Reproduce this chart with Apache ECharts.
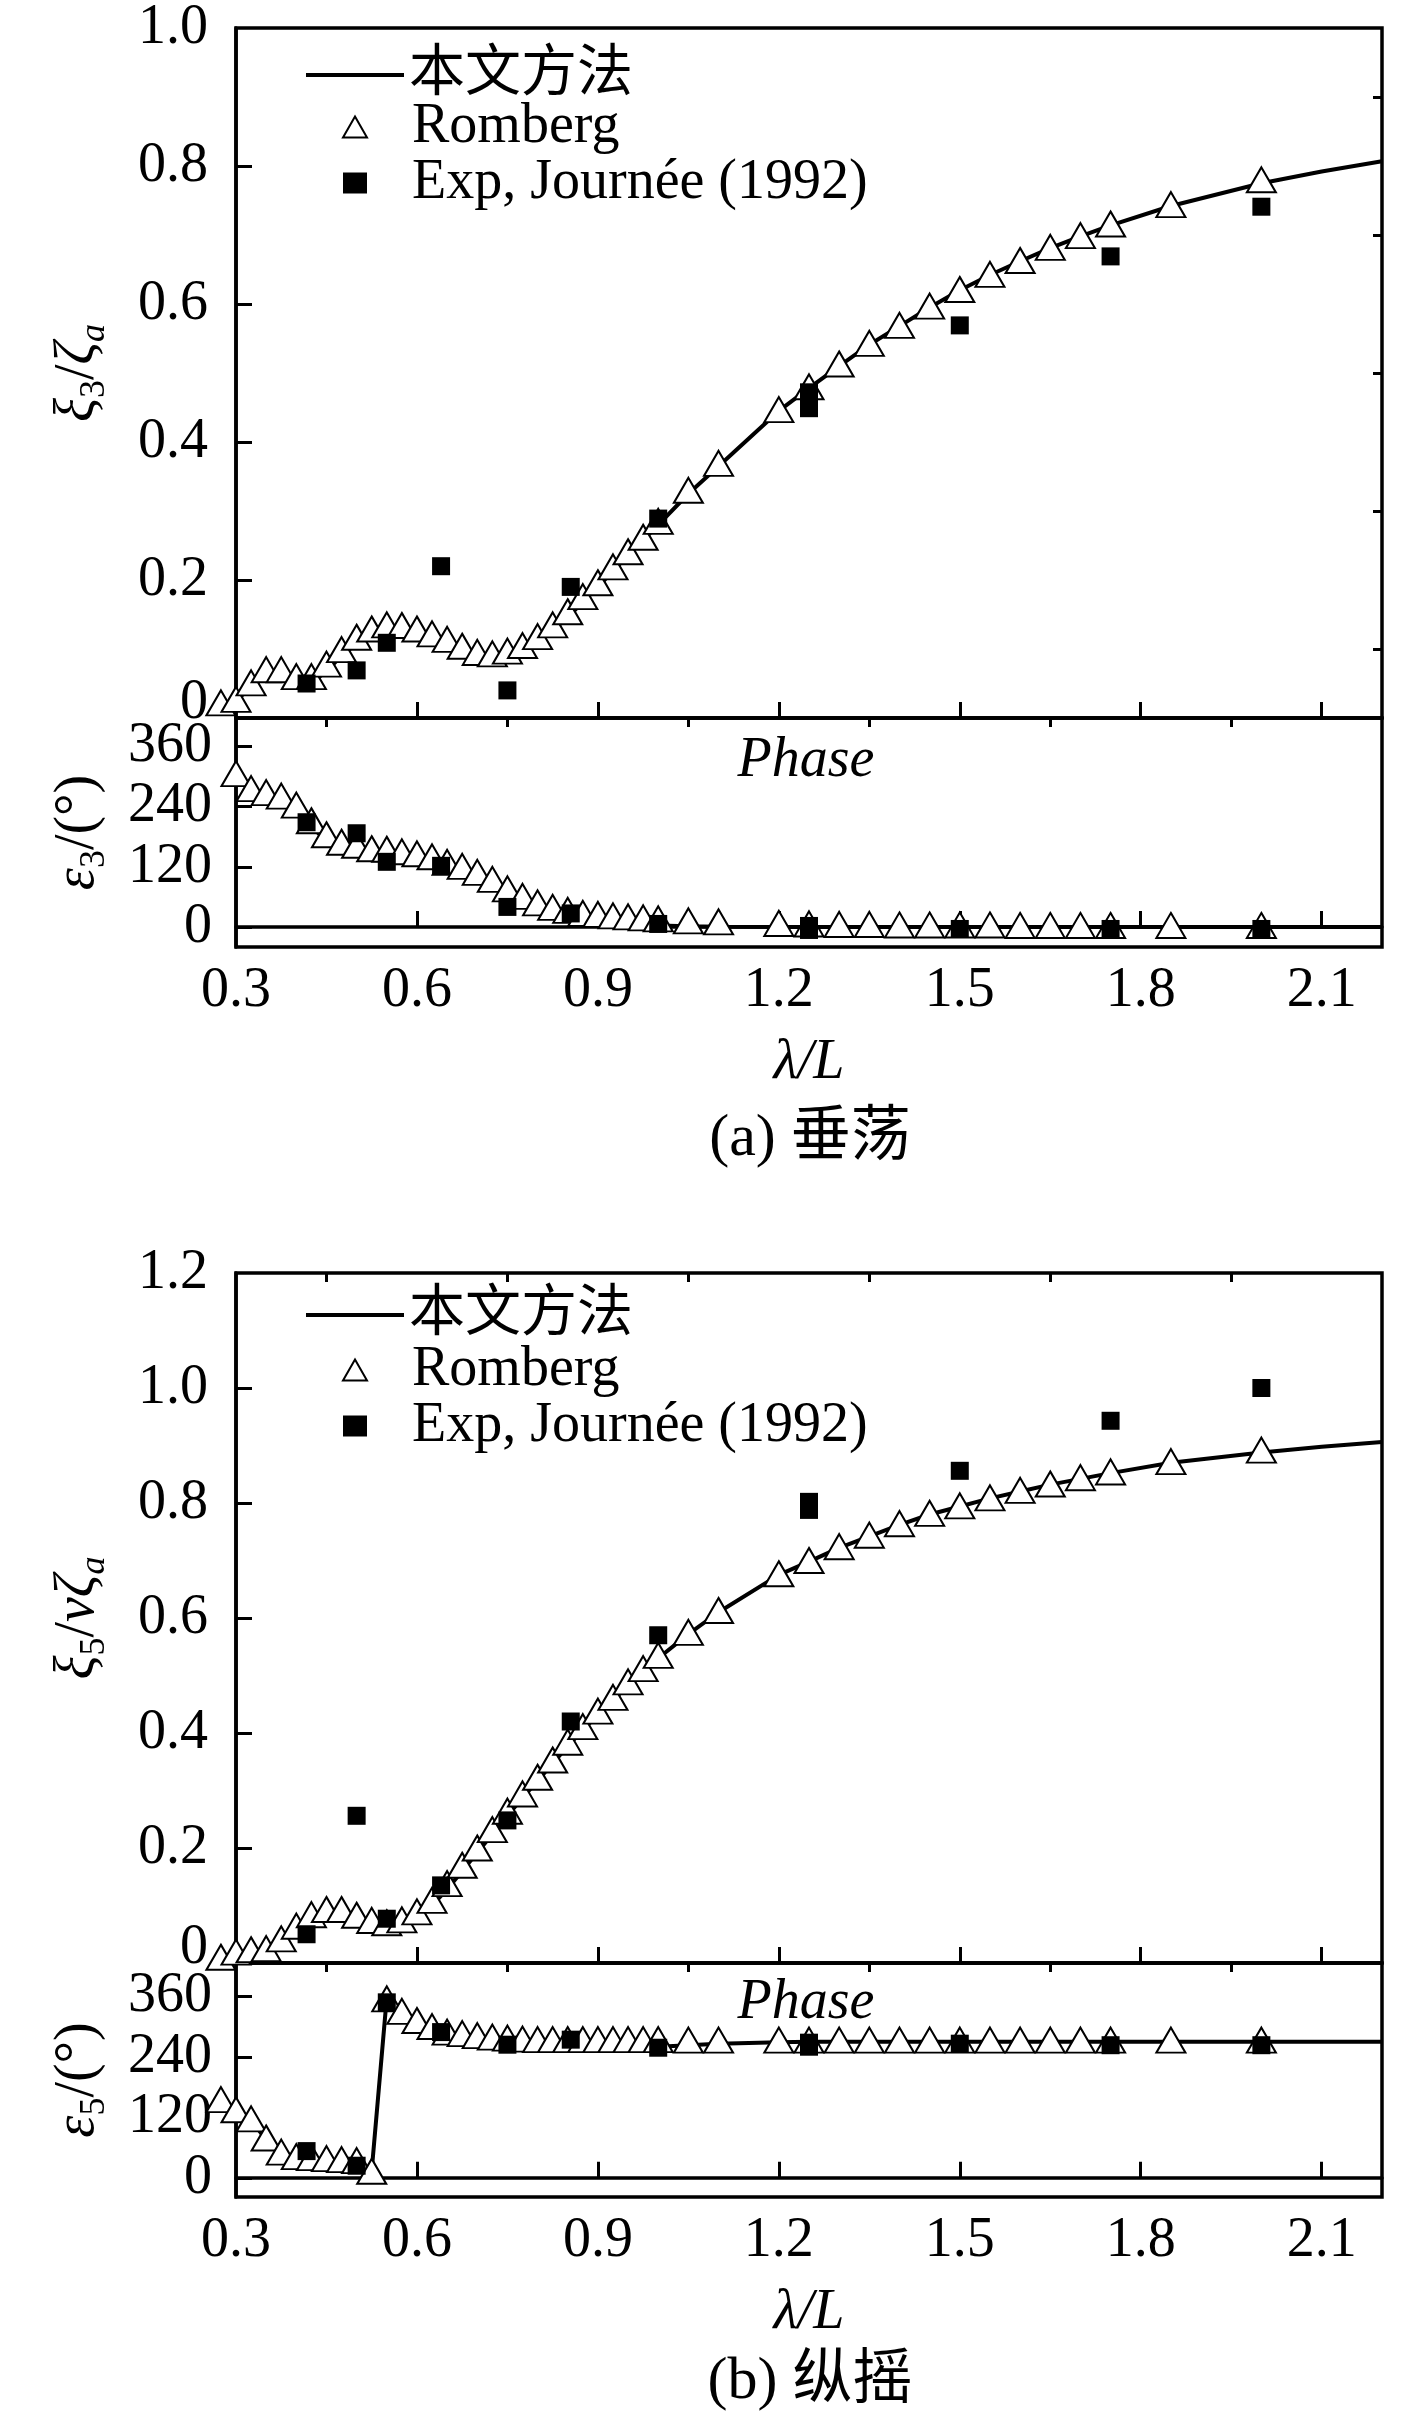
<!DOCTYPE html>
<html>
<head>
<meta charset="UTF-8">
<title>垂荡与纵摇</title>
<script src="https://cdn.jsdelivr.net/npm/echarts@6.0.0/dist/echarts.min.js"></script>
<style>
html, body { margin: 0; padding: 0; background: #fff; }
#main { width: 1417px; height: 2421px; }
</style>
</head>
<body>
<div id="main"></div>
<script>
// ---- data ----
// Romberg 数值点的横坐标 λ/L
var rombergX = [0.275, 0.3, 0.325, 0.35, 0.375, 0.4, 0.425, 0.45, 0.475, 0.5,
	0.525, 0.55, 0.575, 0.6, 0.625, 0.65, 0.675, 0.7, 0.725, 0.75,
	0.775, 0.8, 0.825, 0.85, 0.875, 0.9, 0.925, 0.95, 0.975, 1.0,
	1.05, 1.1, 1.2, 1.25, 1.3, 1.35, 1.4, 1.45, 1.5, 1.55,
	1.6, 1.65, 1.7, 1.75, 1.85, 2.0];
// 本文方法 曲线横坐标
var lineX = rombergX.concat([2.1, 2.2]);
// 试验点横坐标
var expX = [0.417, 0.5, 0.55, 0.64, 0.75, 0.855, 1.0, 1.25, 1.25, 1.5, 1.75, 2.0];

// (a) 垂荡 幅值
var heaveAmpLine = [0.015, 0.025, 0.045, 0.06, 0.062, 0.052, 0.05, 0.068, 0.09, 0.108,
	0.12, 0.126, 0.126, 0.122, 0.114, 0.105, 0.096, 0.087, 0.084, 0.087,
	0.096, 0.11, 0.127, 0.146, 0.168, 0.19, 0.213, 0.236, 0.258, 0.28,
	0.325, 0.365, 0.445, 0.478, 0.51, 0.541, 0.568, 0.595, 0.62, 0.642,
	0.662, 0.681, 0.698, 0.714, 0.742, 0.775, 0.792, 0.807];
var heaveAmpRomberg = [0.022, 0.027, 0.051, 0.07, 0.07, 0.06, 0.06, 0.078, 0.099, 0.117,
	0.129, 0.135, 0.134, 0.129, 0.122, 0.114, 0.104, 0.095, 0.093, 0.097,
	0.105, 0.118, 0.135, 0.154, 0.176, 0.196, 0.219, 0.241, 0.262, 0.285,
	0.33, 0.369, 0.447, 0.48, 0.513, 0.543, 0.569, 0.597, 0.621, 0.643,
	0.663, 0.682, 0.699, 0.716, 0.744, 0.78];
var heaveAmpExp = [0.05, 0.069, 0.109, 0.22, 0.04, 0.19, 0.289, 0.472, 0.449, 0.569, 0.669, 0.741];

// (a) 垂荡 相位
var heavePhaseLine = [330, 300, 270, 262, 252, 232, 200, 172, 158, 150,
	145, 142, 138, 133, 127, 118, 108, 95, 80, 62,
	47, 36, 28, 22, 17, 13, 10, 7, 5, 3,
	1.5, 0.5, 0, 0, 0, 0, 0, 0, 0, 0,
	0, 0, 0, 0, 0, 0, 0, 0];
var heavePhaseRomberg = [null, 306, 276, 268, 261, 243, 212, 184, 169, 163,
	156, 155, 150, 146, 140, 129, 121, 109, 95, 76,
	61, 48, 39, 33, 27, 25, 22, 20, 18, 16,
	12, 10, 7, 6, 5, 5, 4, 4, 4, 4,
	3, 3, 3, 3, 3, 3];
var heavePhaseExp = [209, 187, 130, 122, 40, 27, 6, 2, -6, -4, -4, -4];

// (b) 纵摇 幅值
var pitchAmpLine = [0.005, 0.012, 0.017, 0.02, 0.035, 0.053, 0.068, 0.075, 0.075, 0.07,
	0.062, 0.058, 0.063, 0.078, 0.1, 0.128, 0.16, 0.192, 0.224, 0.256,
	0.287, 0.317, 0.347, 0.377, 0.405, 0.432, 0.457, 0.483, 0.507, 0.53,
	0.572, 0.61, 0.675, 0.698, 0.722, 0.742, 0.762, 0.78, 0.794, 0.808,
	0.82, 0.832, 0.842, 0.852, 0.87, 0.888, 0.898, 0.906];
var pitchAmpRomberg = [0.01, 0.019, 0.023, 0.025, 0.042, 0.064, 0.084, 0.093, 0.093, 0.083,
	0.074, 0.07, 0.075, 0.089, 0.109, 0.138, 0.17, 0.2, 0.232, 0.264,
	0.294, 0.323, 0.353, 0.384, 0.411, 0.438, 0.462, 0.489, 0.512, 0.535,
	0.575, 0.613, 0.677, 0.7, 0.724, 0.744, 0.764, 0.782, 0.795, 0.809,
	0.822, 0.833, 0.844, 0.854, 0.872, 0.892];
var pitchAmpExp = [0.05, 0.256, 0.077, 0.135, 0.248, 0.42, 0.57, 0.802, 0.788, 0.856, 0.943, 1.0];

// (b) 纵摇 相位
var pitchPhaseLine = [160, 138, 115, 75, 45, 30, 26, 24, 22, 19,
	14, 358, 328, 306, 290, 279, 272, 267, 264, 262,
	260, 259, 258, 257, 257, 257, 257, 258, 259, 260,
	263, 266, 269, 270, 270, 270, 270, 270, 270, 270,
	270, 270, 270, 270, 270, 270, 270, 270];
var pitchPhaseRomberg = [155, 135, 117, 79, 51, 42, 40, 38, 36, 34,
	13, 355, 330, 312, 300, 289, 286, 282, 279, 277,
	275, 274, 274, 274, 274, 274, 274, 274, 274, 274,
	273, 273, 273, 273, 273, 273, 273, 273, 273, 273,
	273, 273, 273, 273, 273, 273];
var pitchPhaseExp = [53, 24, 348, 289, 264, 274, 258, 268, 260, 266, 263, 263];

// 刻度
var xMajor = [0.3, 0.6, 0.9, 1.2, 1.5, 1.8, 2.1];
var xMinor = [0.45, 0.75, 1.05, 1.35, 1.65, 1.95];
var heaveTicks = [0, 0.2, 0.4, 0.6, 0.8, 1.0];
var heaveMinor = [0.1, 0.3, 0.5, 0.7, 0.9];
var pitchTicks = [0, 0.2, 0.4, 0.6, 0.8, 1.0, 1.2];
var phaseTicks = [0, 120, 240, 360];

var names = ['本文方法', 'Romberg', 'Exp, Journée (1992)'];

// ---- helpers ----
var FONT = "'Liberation Serif', 'Times New Roman', 'Noto Sans CJK SC', serif";
var FS = 56;
var LW = 3.5;

function pairs(xs, ys) {
	var out = [];
	for (var i = 0; i < xs.length; i++) {
		if (ys[i] !== null) out.push([xs[i], ys[i]]);
	}
	return out;
}

var gridLeft = 236, gridW = 1146;
var grids = [
	{ top: 26, height: 692 },    // (a) 幅值
	{ top: 718, height: 229 },   // (a) 相位
	{ top: 1273, height: 690 },  // (b) 幅值
	{ top: 1963, height: 234 }   // (b) 相位
];

function xMajorAxis(g, showLabel) {
	return {
		type: 'value', gridIndex: g, min: 0.3, max: 2.2,
		axisLine: { show: true, lineStyle: { color: '#000', width: LW } },
		axisTick: { show: true, inside: true, length: 16, lineStyle: { color: '#000', width: 3 },
			customValues: xMajor.slice(1) },
		axisLabel: { show: showLabel, customValues: xMajor, margin: 16, color: '#000',
			fontFamily: FONT, fontSize: FS, formatter: function (v) { return v.toFixed(1); } },
		splitLine: { show: false },
		name: showLabel ? 'λ/L' : '', nameLocation: 'middle', nameGap: 88,
		nameTextStyle: { fontFamily: FONT, fontSize: FS, fontStyle: 'italic', color: '#000' }
	};
}
function xMinorAxis(g) {
	return {
		type: 'value', gridIndex: g, min: 0.3, max: 2.2,
		axisLine: { show: false },
		axisTick: { show: true, inside: true, length: 9, lineStyle: { color: '#000', width: 3 },
			customValues: xMinor },
		axisLabel: { show: false },
		splitLine: { show: false }
	};
}
function nameRich() {
	return {
		i: { fontFamily: FONT, fontSize: FS, fontStyle: 'italic', lineHeight: 70, color: '#000' },
		n: { fontFamily: FONT, fontSize: FS, lineHeight: 70, color: '#000' },
		s: { fontFamily: FONT, fontSize: 36, lineHeight: 36, verticalAlign: 'bottom', color: '#000' },
		si: { fontFamily: FONT, fontSize: 36, fontStyle: 'italic', lineHeight: 36, verticalAlign: 'bottom', color: '#000' }
	};
}
function ampAxis(g, max, labels, ticks, name) {
	return {
		type: 'value', gridIndex: g, min: 0, max: max,
		axisLine: { show: true, lineStyle: { color: '#000', width: LW } },
		axisTick: { show: true, inside: true, length: 16, lineStyle: { color: '#000', width: 3 },
			customValues: ticks },
		axisLabel: { customValues: labels, margin: 28, color: '#000', fontFamily: FONT, fontSize: FS,
			formatter: function (v) { return v === 0 ? '{z|0}' : v.toFixed(1); },
			rich: { z: { fontFamily: FONT, fontSize: FS, color: '#000', padding: [0, 0, 30, 0] } } },
		splitLine: { show: false },
		name: name, nameLocation: 'middle', nameGap: 123,
		nameTextStyle: { rich: nameRich() }
	};
}
function minorYAxis(g, max, ticks) {
	return {
		type: 'value', gridIndex: g, min: 0, max: max,
		axisLine: { show: false },
		axisTick: { show: true, inside: true, length: 9, lineStyle: { color: '#000', width: 3 },
			customValues: ticks },
		axisLabel: { show: false },
		splitLine: { show: false }
	};
}
function phaseAxis(g, min, max, name) {
	return {
		type: 'value', gridIndex: g, min: min, max: max,
		axisLine: { show: true, lineStyle: { color: '#000', width: LW } },
		axisTick: { show: true, inside: true, length: 16, lineStyle: { color: '#000', width: 3 },
			customValues: phaseTicks },
		axisLabel: { customValues: phaseTicks, margin: 24, color: '#000', fontFamily: FONT, fontSize: FS },
		splitLine: { show: false },
		name: name, nameLocation: 'middle', nameGap: 123,
		nameTextStyle: { rich: nameRich() }
	};
}

function lineSeries(xi, yi, data) {
	return {
		name: names[0], type: 'line', xAxisIndex: xi, yAxisIndex: yi,
		data: data, symbol: 'none', smooth: false, z: 2,
		lineStyle: { color: '#000', width: 4 }, itemStyle: { color: '#000' }
	};
}
function rombergSeries(xi, yi, data) {
	return {
		name: names[1], type: 'scatter', xAxisIndex: xi, yAxisIndex: yi,
		data: data, symbol: 'triangle', symbolSize: [29, 25], clip: false, z: 3,
		itemStyle: { color: '#fff', borderColor: '#000', borderWidth: 2, opacity: 1 }
	};
}
function expSeries(xi, yi, data) {
	return {
		name: names[2], type: 'scatter', xAxisIndex: xi, yAxisIndex: yi,
		data: data, symbol: 'rect', symbolSize: 18, clip: false, z: 4,
		itemStyle: { color: '#000', opacity: 1 }
	};
}
// 图例：线条一行，符号两行（符号不拉伸，文字对齐）
function legendLine(top) {
	return {
		data: [{ name: names[0], icon: 'rect' }], orient: 'vertical', left: 301, top: top,
		itemWidth: 98, itemHeight: 4, selectedMode: false,
		textStyle: { fontFamily: FONT, fontSize: FS, lineHeight: 54, color: '#000' }
	};
}
function legendMarks(top) {
	return {
		data: [{ name: names[1], icon: 'triangle' }, { name: names[2], icon: 'rect' }],
		orient: 'vertical', left: 337, top: top,
		itemWidth: 24, itemHeight: 21, itemGap: 0, selectedMode: false,
		textStyle: { fontFamily: FONT, fontSize: FS, lineHeight: 54, color: '#000', padding: [0, 0, 0, 40] }
	};
}
function label(text, x, y, italic, size) {
	return {
		type: 'text', x: x, y: y, silent: true,
		style: { text: text, fill: '#000', textAlign: 'center', textVerticalAlign: 'middle',
			font: (italic ? 'italic ' : '') + size + 'px ' + FONT }
	};
}

var myChart = echarts.init(document.getElementById('main'), null, { renderer: 'canvas' });
var option = {
	backgroundColor: '#fff',
	animation: false,
	grid: grids.map(function (g) {
		return { left: gridLeft, width: gridW, top: g.top, height: g.height,
			show: true, borderColor: '#000', borderWidth: LW, backgroundColor: 'transparent' };
	}),
	xAxis: [
		xMajorAxis(0, false), xMinorAxis(0),
		xMajorAxis(1, true), xMinorAxis(1),
		xMajorAxis(2, false), xMinorAxis(2),
		xMajorAxis(3, true), xMinorAxis(3)
	],
	yAxis: [
		ampAxis(0, 1.0, heaveTicks, heaveTicks.slice(1, 5), '{i|ξ}{s|3}{n|/}{i|ζ}{si|a}'),
		minorYAxis(0, 1.0, heaveMinor),
		phaseAxis(1, -40, 417, '{i|ε}{s|3}{n|/(°)}'),
		ampAxis(2, 1.2, pitchTicks, pitchTicks.slice(1, 6), '{i|ξ}{s|5}{n|/}{i|νζ}{si|a}'),
		phaseAxis(3, -38, 426, '{i|ε}{s|5}{n|/(°)}')
	],
	legend: [legendLine(42), legendMarks(94), legendLine(1282), legendMarks(1337)],
	series: [
		lineSeries(0, 0, pairs(lineX, heaveAmpLine)),
		rombergSeries(0, 0, pairs(rombergX, heaveAmpRomberg)),
		expSeries(0, 0, pairs(expX, heaveAmpExp)),
		lineSeries(2, 2, pairs(lineX, heavePhaseLine)),
		rombergSeries(2, 2, pairs(rombergX, heavePhaseRomberg)),
		expSeries(2, 2, pairs(expX, heavePhaseExp)),
		lineSeries(4, 3, pairs(lineX, pitchAmpLine)),
		rombergSeries(4, 3, pairs(rombergX, pitchAmpRomberg)),
		expSeries(4, 3, pairs(expX, pitchAmpExp)),
		lineSeries(6, 4, pairs(lineX, pitchPhaseLine)),
		rombergSeries(6, 4, pairs(rombergX, pitchPhaseRomberg)),
		expSeries(6, 4, pairs(expX, pitchPhaseExp))
	],
	graphic: [
		label('Phase', 806, 761, true, FS),
		label('Phase', 806, 2003, true, FS),
		label('(a) 垂荡', 810, 1139, false, 60),
		label('(b) 纵摇', 810, 2382, false, 60)
	]
};
myChart.setOption(option);
</script>
</body>
</html>
